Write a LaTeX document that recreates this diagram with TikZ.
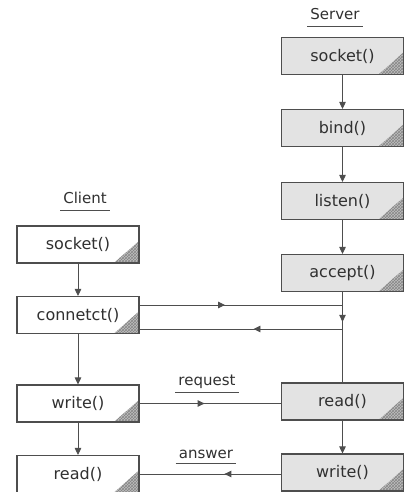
\documentclass[tikz,border=0pt]{standalone}
\usepackage{fontspec}
\setmainfont{DejaVu Sans}
\usetikzlibrary{arrows.meta,decorations.markings,patterns}
\definecolor{inkc}{HTML}{303030}
\definecolor{linec}{HTML}{4E4E4E}
\tikzset{
  corner/.style={
    path picture={
      \fill[gray!50] (path picture bounding box.south east) -- ++(-25pt,0) -- ++(25pt,22pt) -- cycle;
      \path[pattern=crosshatch, pattern color=gray!95] (path picture bounding box.south east) -- ++(-25pt,0) -- ++(25pt,22pt) -- cycle;
    }},
  box/.style={draw=linec, line width=1.1pt, minimum width=122pt, minimum height=37pt,
    inner sep=0pt, text=inkc, font=\fontsize{16}{19}\selectfont, corner},
  cbox/.style={box, fill=white},
  sbox/.style={box, fill=gray!22},
  tag/.style={text=inkc, font=\fontsize{15}{18}\selectfont, inner sep=0pt, anchor=base},
  rule/.style={draw=linec, line width=0.9pt},
  flow/.style={draw=linec, line width=0.9pt},
  tip/.style={-{Triangle[length=7pt,width=6.5pt]}},
  midarrow/.style={postaction={decorate}, decoration={markings,
    mark=at position #1 with {\arrow{Triangle[length=7pt,width=6.5pt]}}}},
}
\begin{document}
\begin{tikzpicture}[x=1pt, y=-1pt]
\useasboundingbox (0,0) rectangle (407,492);

% server side
\node[tag] (srv) at (335,20) {Server};
\draw[rule] ([xshift=-3pt,yshift=-6pt]srv.base west) -- ([xshift=3pt,yshift=-6pt]srv.base east);
\node[sbox] (ssock)   at (342.5,56)    {socket()};
\node[sbox] (sbind)   at (342.5,128)   {bind()};
\node[sbox] (slisten) at (342.5,201)   {listen()};
\node[sbox] (saccept) at (342.5,273)   {accept()};
\node[sbox] (sread)   at (342.5,401.5) {read()};
\node[sbox] (swrite)  at (342.5,472.5) {write()};

% client side
\node[tag] (cli) at (85,203) {Client};
\draw[rule] ([xshift=-3pt,yshift=-7pt]cli.base west) -- ([xshift=3pt,yshift=-7pt]cli.base east);
\node[cbox] (csock)  at (78,244.5) {socket()};
\node[cbox] (cconn)  at (78,315)   {connetct()};
\node[cbox] (cwrite) at (78,403.5) {write()};
\node[cbox] (cread)  at (78,474)   {read()};

% server call sequence
\draw[flow, tip] (ssock) -- (sbind);
\draw[flow, tip] (sbind) -- (slisten);
\draw[flow, tip] (slisten) -- (saccept);
\draw[flow, tip] (sread) -- (swrite);
\draw[flow, midarrow=0.33] (saccept) -- (sread);

% client call sequence
\draw[flow, tip] (csock) -- (cconn);
\draw[flow, tip] (cconn) -- (cwrite);
\draw[flow, tip] (cwrite) -- (cread);

% connection handshake
\coordinate (j1) at (343,305);
\coordinate (j2) at (343,329);
\draw[flow, midarrow=0.42] (cconn.east |- j1) -- (j1);
\draw[flow, midarrow=0.44] (j2) -- (cconn.east |- j2);

% request / answer
\node[tag] (req) at (207,385) {request};
\draw[rule] ([xshift=-3pt,yshift=-7pt]req.base west) -- ([xshift=3pt,yshift=-7pt]req.base east);
\draw[flow, midarrow=0.46] (cwrite.east) -- (cwrite.east -| sread.west);

\node[tag] (ans) at (206,458) {answer};
\draw[rule] ([xshift=-3pt,yshift=-5pt]ans.base west) -- ([xshift=3pt,yshift=-5pt]ans.base east);
\draw[flow, midarrow=0.40] (cread.east -| swrite.west) -- (cread.east);
\end{tikzpicture}
\end{document}
